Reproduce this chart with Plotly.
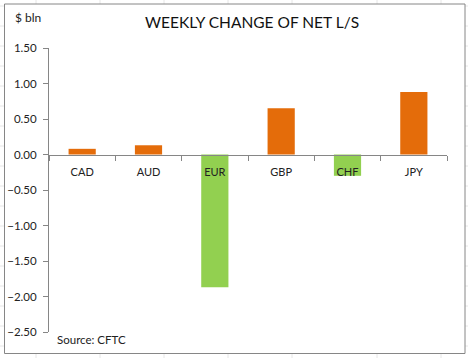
import plotly.graph_objects as go

categories = ["CAD", "AUD", "EUR", "GBP", "CHF", "JPY"]
values = [0.08, 0.13, -1.87, 0.65, -0.30, 0.88]
y_ticks = [1.5, 1.0, 0.5, 0.0, -0.5, -1.0, -1.5, -2.0, -2.5]

ORANGE = "#E46C0A"
GREEN = "#92D050"
colors = [ORANGE if v >= 0 else GREEN for v in values]

W, H = 468, 358
ML, MR, MT, MB = 49, 21, 48, 26
PW, PH = W - ML - MR, H - MT - MB


def px(x):
    return (x - ML) / PW


def py(y):
    return (H - MB - y) / PH


FONT = "Lato, 'Liberation Sans', sans-serif"

fig = go.Figure()
fig.add_trace(go.Bar(
    x=categories, y=values, marker=dict(color=colors, line=dict(width=0)),
    width=0.41, showlegend=False, hoverinfo="skip",
))

shapes = []
# spreadsheet grid visible outside the chart frame
for gx in [36, 100, 164, 228, 292, 377, 441]:
    shapes.append(dict(type="line", xref="paper", yref="paper", x0=px(gx), x1=px(gx),
                       y0=py(0), y1=py(H), line=dict(color="#E6E6E6", width=1), layer="below"))
for gy in range(6, H, 20):
    shapes.append(dict(type="line", xref="paper", yref="paper", x0=px(0), x1=px(W),
                       y0=py(gy), y1=py(gy), line=dict(color="#E6E6E6", width=1), layer="below"))
# chart area (white with grey border)
shapes.append(dict(type="rect", xref="paper", yref="paper", x0=px(4.5), x1=px(465),
                   y0=py(353.5), y1=py(4), fillcolor="white",
                   line=dict(color="#868686", width=1), layer="below"))

fig.update_layout(
    width=W, height=H,
    margin=dict(l=ML, r=MR, t=MT, b=MB, autoexpand=False),
    paper_bgcolor="white", plot_bgcolor="rgba(0,0,0,0)",
    font=dict(family=FONT, color="#222222", size=11),
    shapes=shapes,
    bargap=0.59,
    annotations=[
        dict(text="WEEKLY CHANGE OF NET L/S", xref="paper", yref="paper",
             x=px(252), y=py(22), xanchor="center", yanchor="middle", showarrow=False,
             font=dict(size=15.5, color="#111111", family=FONT)),
        dict(text="$ bln", xref="paper", yref="paper", x=px(13), y=py(18),
             xanchor="left", yanchor="middle", showarrow=False,
             font=dict(size=12, color="#222222", family=FONT)),
        dict(text="Source: CFTC", xref="paper", yref="paper", x=px(55), y=py(339),
             xanchor="left", yanchor="middle", showarrow=False,
             font=dict(size=11.5, color="#222222", family=FONT)),
    ],
    xaxis=dict(
        type="category", anchor="free", position=0.625, automargin=False,
        showline=True, linecolor="#868686", linewidth=1,
        ticks="outside", tickson="boundaries", ticklen=5, tickcolor="#868686",
        showgrid=False, zeroline=False, ticklabelstandoff=7,
        tickfont=dict(size=11, color="#222222"),
        range=[-0.5, 5.5], fixedrange=True,
    ),
    yaxis=dict(
        range=[-2.5, 1.5], tickvals=y_ticks, tickformat=".2f", automargin=False,
        showline=True, linecolor="#868686", linewidth=1,
        ticks="outside", ticklen=5, tickcolor="#868686",
        showgrid=False, zeroline=False, ticklabelstandoff=4,
        tickfont=dict(size=11.5, color="#222222"), fixedrange=True,
    ),
)

fig.write_html(
    "out.html",
    config={"displayModeBar": False},
    post_script="document.body.style.margin='0';document.body.style.overflow='hidden';",
)
